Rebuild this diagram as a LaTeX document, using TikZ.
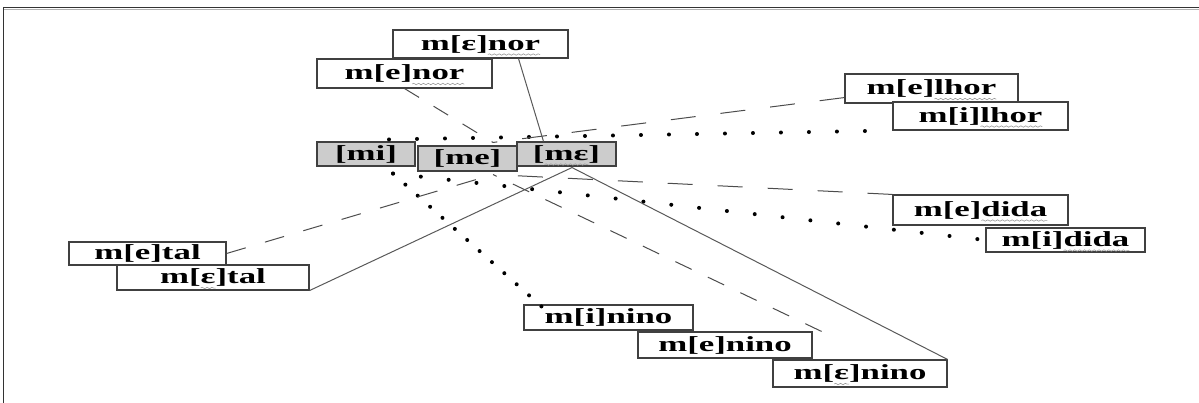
\documentclass[tikz,border=0pt]{standalone}
\usepackage{fontspec}
\setmainfont{Liberation Serif}
\usetikzlibrary{calc,decorations.pathmorphing}
\newsavebox\sqbox
\newcommand\sq[1]{\sbox\sqbox{#1}\rlap{\tikz[overlay,x=1pt,y=1pt]\draw[black!40,line width=0.5pt,decorate,decoration={snake,amplitude=0.7pt,segment length=3pt}] (0pt,-4.5pt) -- (\the\wd\sqbox,-4.5pt);}\usebox\sqbox}
\newcommand\lbl[1]{\scalebox{1.62}[1]{\fontsize{21.5}{25}\selectfont\bfseries #1}}
\begin{document}
\begin{tikzpicture}[x=1pt,y=-1pt,
  box/.style={draw=black!75,line width=1.1pt,fill=white,inner sep=0pt},
  gbox/.style={box,fill=black!20},
  dotl/.style={black,line width=4pt,line cap=round,dash pattern=on 0pt off #1},
  dashl/.style={black!70,line width=1pt,dash pattern=on #1 off #1},
  solidl/.style={black!65,line width=1pt}]
\useasboundingbox (0,0) rectangle (1199,403);
% frame
\draw[black!80,line width=1.6pt] (3,7.5) -- (1199,7.5);
\draw[black!30,line width=0.8pt] (3,9.6) -- (1199,9.6);
\draw[black!80,line width=0.9pt] (3,7) -- (3,403);
% boxes
\node[box,minimum width=175pt,minimum height=28pt] (Enor) at (480.5,44) {\lbl{m[ε]\sq{nor}}};
\node[box,minimum width=175pt,minimum height=29pt] (enor) at (404.5,73.5) {\lbl{m[e]\sq{nor}}};
\node[gbox,minimum width=98pt,minimum height=24pt] (mi) at (366,154) {\lbl{[mi]}};
\node[gbox,minimum width=99pt,minimum height=25pt] (me) at (467.5,158.5) {\lbl{[me]}};
\node[gbox,minimum width=99pt,minimum height=24pt] (mE) at (566.5,154) {\lbl{[\sq{mε}]}};
\node[box,minimum width=173pt,minimum height=29pt] (elhor) at (931.5,88.5) {\lbl{m[e]\sq{lhor}}};
\node[box,minimum width=175pt,minimum height=28pt] (ilhor) at (980.5,116) {\lbl{m[i]\sq{lhor}}};
\node[box,minimum width=175pt,minimum height=30pt] (edida) at (980.5,210) {\lbl{m[e]\sq{dida}}};
\node[box,minimum width=159pt,minimum height=24pt] (idida) at (1065.5,240) {\lbl{m[i]\sq{dida}}};
\node[box,minimum width=157pt,minimum height=23pt] (etal) at (147.5,253.5) {\lbl{m[e]tal}};
\node[box,minimum width=192pt,minimum height=25pt] (Etal) at (213,277.5) {\lbl{m[\sq{ε}]tal}};
\node[box,minimum width=169pt,minimum height=25pt] (inino) at (608.5,317.5) {\lbl{m[i]nino}};
\node[box,minimum width=174pt,minimum height=26pt] (enino) at (725,345) {\lbl{m[e]nino}};
\node[box,minimum width=174pt,minimum height=27pt] (Enino) at (860,373.5) {\lbl{m[\sq{ε}]nino}};
% meeting points
\coordinate (miT) at ($(mi.north)+(23,-2)$);
\coordinate (miB) at ($(mi.south)+(27,7)$);
\coordinate (meT) at ($(me.north)+(25.5,-3)$);
\coordinate (meB) at ($(me.south)+(25.5,3)$);
\coordinate (mEB) at ($(mE.south)+(5.5,1)$);
% [mi] dotted
\draw[dotl=28pt] (miT) -- (ilhor.south west);
\draw[dotl=28pt] (miB) -- (idida.west);
\draw[dotl=16.6pt] (miB) -- ($(inino.north west)+(18,2)$);
% [me] dashed
\draw[dashl=17pt] (enor.south) -- (meT);
\draw[dashl=25pt] ($(elhor.south west)+(0,-6)$) -- (meT);
\draw[dashl=25pt] (edida.north west) -- (meB);
\draw[dashl=20pt] (etal.east) -- (meB);
\draw[dashl=18pt] ($(enino.north east)+(9,0)$) -- (meB);
% [mE] solid
\draw[solidl] ($(Enor.south)+(38,0)$) -- ($(mE.north)+(-23,0)$);
\draw[solidl] (Etal.south east) -- (mEB);
\draw[solidl] (Enino.north east) -- (mEB);
\end{tikzpicture}
\end{document}
